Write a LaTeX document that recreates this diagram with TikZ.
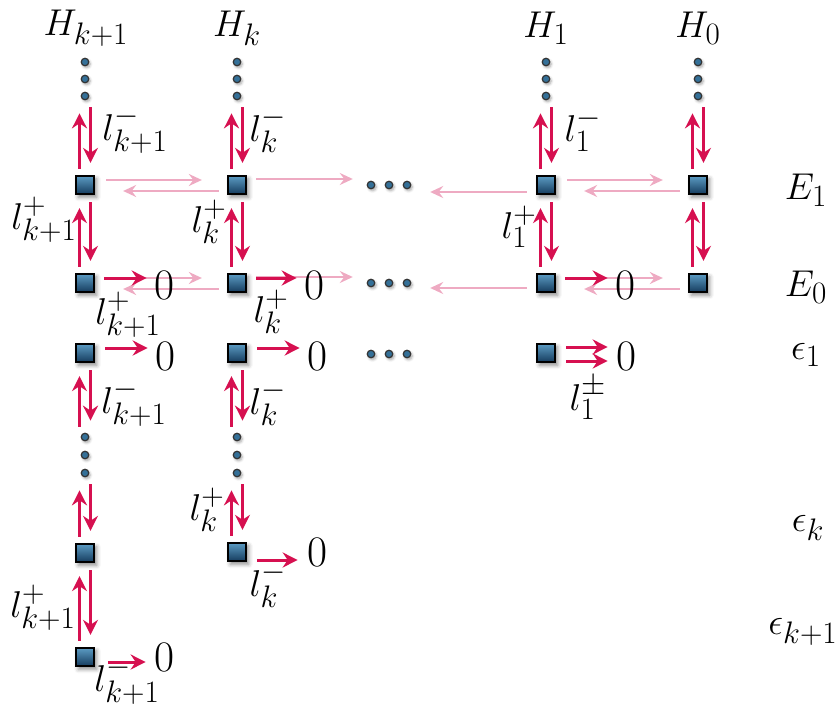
\documentclass[tikz,border=0pt]{standalone}
\usetikzlibrary{arrows.meta,shadows.blur}
\definecolor{myred}{RGB}{214,16,80}
\definecolor{mypink}{RGB}{238,170,194}
\definecolor{sqtop}{RGB}{92,156,196}
\definecolor{sqbot}{RGB}{20,58,92}
\definecolor{dotfill}{RGB}{52,112,152}
\tikzset{
  lbl/.style={font=\Huge, inner sep=0pt, scale=1.5, transform shape},
  zero/.style={font=\Huge, inner sep=0pt, scale=1.75, transform shape},
  sq/.style={rectangle, minimum size=18.5pt, inner sep=0pt, draw=black, line width=1.8pt,
    top color=sqtop, bottom color=sqbot,
    blur shadow={shadow xshift=2.5pt, shadow yshift=-3pt, shadow blur radius=4pt, shadow opacity=45}},
  dt/.style={circle, minimum size=7.5pt, inner sep=0pt, fill=dotfill, draw=black!80, line width=1.2pt,
    blur shadow={shadow xshift=1.5pt, shadow yshift=-2pt, shadow blur radius=2.5pt, shadow opacity=35}},
  grp/.style={rectangle, minimum width=40pt, minimum height=8pt, inner sep=0pt},
  rarr/.style={draw=myred, line width=3pt, -{Stealth[length=15pt,width=15pt,inset=5pt]}},
  parr/.style={draw=mypink, line width=2.4pt, -{Stealth[length=13pt,width=12pt,inset=4.5pt]}},
}
\newcommand\vpair[2]{%
  \draw[rarr] ([xshift=-5.5pt,yshift=6pt]#2.north) -- ([xshift=-5.5pt,yshift=-13pt]#1.south);
  \draw[rarr] ([xshift=5.5pt,yshift=-7pt]#1.south) -- ([xshift=5.5pt,yshift=12pt]#2.north);}
\newcommand\hpair[2]{%
  \draw[parr] ([xshift=11pt,yshift=5pt]#1.east) -- ([xshift=-25pt,yshift=5pt]#2.west);
  \draw[parr] ([xshift=-8pt,yshift=-6pt]#2.west) -- ([xshift=28pt,yshift=-6pt]#1.east);}
\begin{document}
\begin{tikzpicture}[x=1pt,y=-1pt]
\useasboundingbox (0,0) rectangle (838,706);
% column headings
\node[lbl] (h1) at (86,28) {$H_{k+1}$};
\node[lbl] (h2) at (237,28) {$H_k$};
\node[lbl] (h3) at (546,28) {$H_1$};
\node[lbl] (h4) at (698,28) {$H_0$};
% row labels
\node[lbl] (rE1) at (806,190) {$E_1$};
\node[lbl] (rE0) at (806,287) {$E_0$};
\node[lbl] (re1) at (806,355) {$\epsilon_1$};
\node[lbl] (rek) at (808,528) {$\epsilon_k$};
\node[lbl] (rek1) at (803,632) {$\epsilon_{k+1}$};
% top dots
\foreach \c/\x in {1/85,2/237,3/546,4/698}{
  \node[dt] (d\c a) at (\x,62) {};
  \node[dt] (d\c b) at (\x,79) {};
  \node[dt] (d\c c) at (\x,96) {};
}
% lower dots
\foreach \c/\x in {1/85,2/237}{
  \node[dt] (e\c a) at (\x,437) {};
  \node[dt] (e\c b) at (\x,455) {};
  \node[dt] (e\c c) at (\x,473) {};
}
% horizontal dot groups
\foreach \r/\y in {1/185,2/283,3/354}{
  \node[grp] (g\r) at (389,\y) {};
  \node[dt] (g\r a) at (371,\y) {};
  \node[dt] (g\r b) at (389,\y) {};
  \node[dt] (g\r c) at (407,\y) {};
}
% squares
\node[sq] (s1a) at (85,185) {};
\node[sq] (s1b) at (85,283) {};
\node[sq] (s1c) at (85,353) {};
\node[sq] (s1d) at (85,553) {};
\node[sq] (s1e) at (85,657) {};
\node[sq] (s2a) at (237,185) {};
\node[sq] (s2b) at (237,283) {};
\node[sq] (s2c) at (237,353) {};
\node[sq] (s2d) at (237,552) {};
\node[sq] (s3a) at (546,185) {};
\node[sq] (s3b) at (546,283) {};
\node[sq] (s3c) at (546,353) {};
\node[sq] (s4a) at (698,185) {};
\node[sq] (s4b) at (698,283) {};
% pale arrows
\hpair{s1a}{s2a}
\hpair{s3a}{s4a}
\hpair{s1b}{s2b}
\hpair{s3b}{s4b}
\draw[parr] ([xshift=9pt,yshift=6pt]s2a.east) -- ([xshift=-16pt,yshift=6pt]g1.west);
\draw[parr] ([xshift=-9pt,yshift=-7pt]s3a.west) -- ([xshift=21pt,yshift=-7pt]g1.east);
\draw[parr] ([xshift=9pt,yshift=6pt]s2b.east) -- ([xshift=-16pt,yshift=6pt]g2.west);
\draw[parr] ([xshift=-9pt,yshift=-5pt]s3b.west) -- ([xshift=21pt,yshift=-5pt]g2.east);
% zeros
\node[zero] (z1b) at (164,285) {$0$};
\node[zero] (z2b) at (314,285) {$0$};
\node[zero] (z3b) at (625,285) {$0$};
\node[zero] (z1c) at (165,356) {$0$};
\node[zero] (z2c) at (317,356) {$0$};
\node[zero] (z3c) at (626,356) {$0$};
\node[zero] (z2d) at (317,552) {$0$};
\node[zero] (z1e) at (164,657) {$0$};
% vertical arrow pairs
\vpair{d1c}{s1a}
\vpair{s1a}{s1b}
\vpair{s1c}{e1a}
\vpair{e1c}{s1d}
\vpair{s1d}{s1e}
\vpair{d2c}{s2a}
\vpair{s2a}{s2b}
\vpair{s2c}{e2a}
\vpair{e2c}{s2d}
\vpair{d3c}{s3a}
\vpair{s3a}{s3b}
\vpair{d4c}{s4a}
\vpair{s4a}{s4b}
% red arrows to zero
\draw[rarr] ([xshift=9pt,yshift=5pt]s1b.east) -- ([xshift=-7pt,yshift=7pt]z1b.west);
\draw[rarr] ([xshift=9pt,yshift=5pt]s2b.east) -- ([xshift=-7pt,yshift=7pt]z2b.west);
\draw[rarr] ([xshift=9pt,yshift=5pt]s3b.east) -- ([xshift=-7pt,yshift=7pt]z3b.west);
\draw[rarr] ([xshift=10pt,yshift=5pt]s1c.east) -- ([xshift=-7pt,yshift=8pt]z1c.west);
\draw[rarr] ([xshift=10pt,yshift=5pt]s2c.east) -- ([xshift=-7pt,yshift=8pt]z2c.west);
\draw[rarr] ([xshift=10pt,yshift=6pt]s3c.east) -- ([xshift=-8pt,yshift=9pt]z3c.west);
\draw[rarr] ([xshift=10pt,yshift=-8pt]s3c.east) -- ([xshift=-8pt,yshift=-5pt]z3c.west);
\draw[rarr] ([xshift=10pt,yshift=-8pt]s2d.east) -- ([xshift=-9pt,yshift=-8pt]z2d.west);
\draw[rarr] ([xshift=13pt,yshift=-5pt]s1e.east) -- ([xshift=-8pt,yshift=-5pt]z1e.west);
% arrow labels
\node[lbl] (la1) at (135,130) {$l^-_{k+1}$};
\node[lbl] (la2) at (268,130) {$l^-_k$};
\node[lbl] (la3) at (583,130) {$l^-_1$};
\node[lbl] (lb1) at (44,220) {$l^+_{k+1}$};
\node[lbl] (lb2) at (209,222) {$l^+_k$};
\node[lbl] (lb3) at (519,227) {$l^+_1$};
\node[lbl] (lc1) at (128,315) {$l^+_{k+1}$};
\node[lbl] (lc2) at (271,312) {$l^+_k$};
\node[lbl] (ld1) at (134,403) {$l^-_{k+1}$};
\node[lbl] (ld2) at (268,403) {$l^-_k$};
\node[lbl] (ld3) at (588,398) {$l^\pm_1$};
\node[lbl] (le2) at (207,510) {$l^+_k$};
\node[lbl] (lf2) at (268,585) {$l^-_k$};
\node[lbl] (lf1) at (43,608) {$l^+_{k+1}$};
\node[lbl] (lg1) at (127,681) {$l^-_{k+1}$};
\end{tikzpicture}
\end{document}
